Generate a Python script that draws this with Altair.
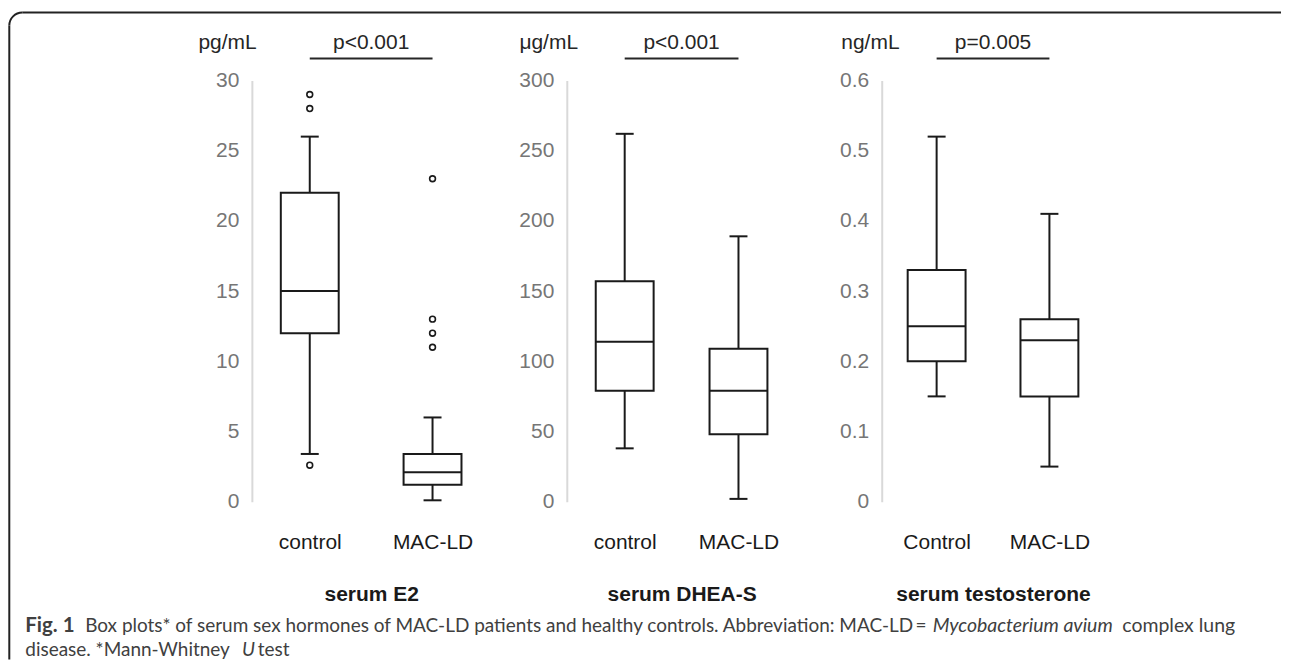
import altair as alt
import pandas as pd

INK = "#1a1a1a"
INK2 = "#262626"
AXIS_GRAY = "#d9d9d9"
LABEL_GRAY = "#767676"
CAP_COLOR = "#404040"
CAP_FONT = "Lato"

# ---------------- data ----------------
titles = ["serum E2", "serum DHEA-S", "serum testosterone"]
units = ["pg/mL", "\u03bcg/mL", "ng/mL"]
pvalues = ["p<0.001", "p<0.001", "p=0.005"]

e2_groups = ["control", "MAC-LD"]
e2_lower = [3.4, 0.1]
e2_q1 = [12, 1.2]
e2_median = [15, 2.1]
e2_q3 = [22, 3.4]
e2_upper = [26, 6]
e2_out_group = ["control", "control", "control", "MAC-LD", "MAC-LD", "MAC-LD", "MAC-LD"]
e2_out_value = [29, 28, 2.6, 23, 13, 12, 11]
e2_ticks = [0, 5, 10, 15, 20, 25, 30]

dhea_groups = ["control", "MAC-LD"]
dhea_lower = [38, 2]
dhea_q1 = [79, 48]
dhea_median = [114, 79]
dhea_q3 = [157, 109]
dhea_upper = [262, 189]
dhea_ticks = [0, 50, 100, 150, 200, 250, 300]

t_groups = ["Control", "MAC-LD"]
t_lower = [0.15, 0.05]
t_q1 = [0.20, 0.15]
t_median = [0.25, 0.23]
t_q3 = [0.33, 0.26]
t_upper = [0.52, 0.41]
t_ticks = [0, 0.1, 0.2, 0.3, 0.4, 0.5, 0.6]

caption_texts = [
    "Fig. 1",
    "Box plots* of serum sex hormones of MAC-LD patients and healthy controls. Abbreviation: MAC-LD\u2009=",
    "Mycobacterium avium",
    "complex lung",
    "disease. *Mann-Whitney",
    "U",
    "test",
]

# ---------------- layout constants (page px) ----------------
ORIGIN_X, ORIGIN_Y = 252, 80
PW, PH = 234, 422


def panel(title, unit, cats, lower, q1, med, q3, upper, out_g, out_v, ticks,
          pval, xr, unit_dx, extra=()):
    stats = pd.DataFrame({"group": cats, "lower": lower, "q1": q1,
                          "median": med, "q3": q3, "upper": upper})
    xs = alt.Scale(type="point", domain=cats, range=xr, padding=0)
    xax = alt.Axis(title=title, labelAngle=0, domain=False, ticks=False,
                   tickSize=0, grid=False, labelPadding=30, labelFontSize=21,
                   labelColor=INK, titleFontSize=21, titleFontWeight="bold",
                   titleColor=INK, titlePadding=31)
    ys = alt.Scale(domain=[0, ticks[-1]], nice=False, zero=True)
    yax = alt.Axis(values=ticks, format="~r", grid=False, ticks=False,
                   tickSize=0, domainColor=AXIS_GRAY, domainWidth=2,
                   labelColor=LABEL_GRAY, labelFontSize=21, labelPadding=13,
                   title=unit, titleAngle=0, titleX=unit_dx, titleY=-38,
                   titleAlign="left", titleBaseline="middle", titleFontSize=21,
                   titleFontWeight="normal", titleColor=INK2)

    def X(f="group"):
        return alt.X(f"{f}:N", scale=xs, axis=xax)

    def Y(f):
        return alt.Y(f"{f}:Q", scale=ys, axis=yax)

    base = alt.Chart(stats)
    layers = [
        base.mark_rule(color=INK, strokeWidth=2).encode(x=X(), y=Y("lower"), y2="q1"),
        base.mark_rule(color=INK, strokeWidth=2).encode(x=X(), y=Y("q3"), y2="upper"),
        base.mark_bar(size=58, fill="white", stroke=INK, strokeWidth=2).encode(
            x=X(), y=Y("q1"), y2="q3"),
        base.mark_tick(size=58, thickness=2, color=INK, opacity=1).encode(
            x=X(), y=Y("median")),
        base.mark_tick(size=18, thickness=2, color=INK, opacity=1).encode(
            x=X(), y=Y("lower")),
        base.mark_tick(size=18, thickness=2, color=INK, opacity=1).encode(
            x=X(), y=Y("upper")),
    ]
    if out_v:
        outl = pd.DataFrame({"group": out_g, "value": out_v})
        layers.append(
            alt.Chart(outl).mark_point(shape="circle", filled=False, size=34,
                                       strokeWidth=1.6, color=INK, opacity=1)
            .encode(x=X(), y=Y("value")))
    pdf = pd.DataFrame({"g1": [cats[0]], "g2": [cats[1]], "p": [pval]})
    layers.append(alt.Chart(pdf).mark_rule(color=INK2, strokeWidth=2).encode(
        x=X("g1"), x2="g2", y=alt.value(-22)))
    layers.append(alt.Chart(pdf).mark_text(fontSize=21, color=INK2,
                                           baseline="middle").encode(
        text="p:N", x=alt.value((xr[0] + xr[1]) / 2), y=alt.value(-38)))
    layers.extend(extra)
    return alt.layer(*layers).properties(width=PW, height=PH)


# ---------------- frame + caption (page-space decorations) ----------------
one = pd.DataFrame({"k": [0]})


def rx(px):
    return px - ORIGIN_X


def ry(py):
    return py - ORIGIN_Y


BORDER = "#222222"
decor = [
    alt.Chart(one).mark_rule(color=BORDER, strokeWidth=2).encode(
        x=alt.value(rx(9)), y=alt.value(ry(25)), y2=alt.value(ry(660))),
    alt.Chart(one).mark_rule(color=BORDER, strokeWidth=2).encode(
        x=alt.value(rx(22)), x2=alt.value(rx(1283)), y=alt.value(ry(12))),
    alt.Chart(one).mark_arc(radius=14, radius2=12, theta=4.712389,
                            theta2=6.283185, color=BORDER).encode(
        x=alt.value(rx(22)), y=alt.value(ry(25))),
]

cap_specs = [
    # text index, page x, page y, font size, weight, style
    (0, 25, 627, 20.5, "bold", "normal"),
    (1, 85, 627, 19, "normal", "normal"),
    (2, 934, 627, 19.5, "normal", "italic"),
    (3, 1124, 627, 19.5, "normal", "normal"),
    (4, 25, 651, 19, "normal", "normal"),
    (5, 242, 651, 19, "normal", "italic"),
    (6, 258, 651, 19, "normal", "normal"),
]
for i, px, py, fs, wt, st in cap_specs:
    decor.append(
        alt.Chart(one).mark_text(align="left", baseline="middle", font=CAP_FONT,
                                 fontSize=fs, fontWeight=wt, fontStyle=st,
                                 color=CAP_COLOR).encode(
            x=alt.value(rx(px)), y=alt.value(ry(py)),
            text=alt.value(caption_texts[i])))

p1 = panel(titles[0], units[0], e2_groups, e2_lower, e2_q1, e2_median, e2_q3,
           e2_upper, e2_out_group, e2_out_value, e2_ticks, pvalues[0],
           [58, 181], -54, decor)
p2 = panel(titles[1], units[1], dhea_groups, dhea_lower, dhea_q1, dhea_median,
           dhea_q3, dhea_upper, [], [], dhea_ticks, pvalues[1], [58, 172], -48)
p3 = panel(titles[2], units[2], t_groups, t_lower, t_q1, t_median, t_q3,
           t_upper, [], [], t_ticks, pvalues[2], [55, 168], -41)

chart = (
    alt.hconcat(p1, p2, p3, spacing=81.5, bounds="flush")
    .properties(padding={"left": 0.3, "top": 3, "right": 2, "bottom": 2})
    .configure(font="Liberation Sans")
    .configure_view(strokeWidth=0, stroke=None)
)

chart.save("out.html", embed_options={"renderer": "svg", "actions": False})
